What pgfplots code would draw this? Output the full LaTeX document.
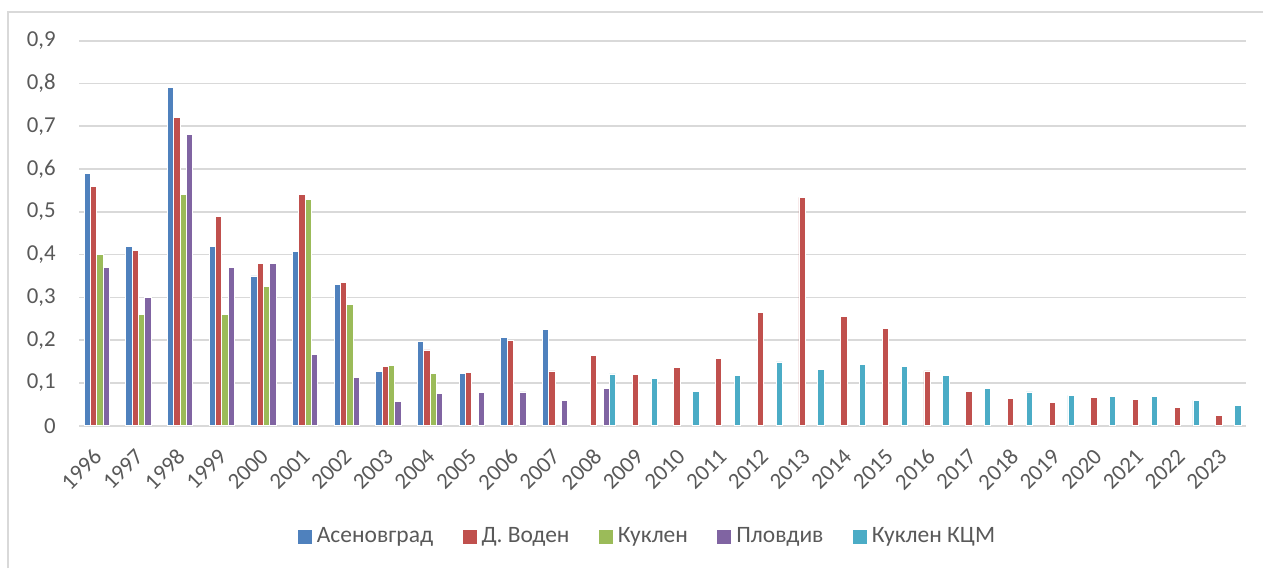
\documentclass[border=0pt]{standalone}
\usepackage{fontspec}
\setmainfont{Carlito}
\usepackage{pgfplots}
\pgfplotsset{compat=1.18}

\definecolor{cA}{HTML}{4F81BD}
\definecolor{cB}{HTML}{C0504D}
\definecolor{cC}{HTML}{9BBB59}
\definecolor{cD}{HTML}{8064A2}
\definecolor{cE}{HTML}{4BACC6}
\definecolor{txt}{HTML}{595959}
\definecolor{grd}{HTML}{D9D9D9}

\newcommand{\cfont}{\fontsize{11.4}{13.7}\selectfont}
\newcommand{\lfont}{\fontsize{11.75}{14}\selectfont}

\pgfplotsset{
  sqlegend/.style={legend image code/.code={\fill[##1, draw=none] (0pt,-3.5pt) rectangle (7pt,3.5pt);}},
}

\begin{document}
\begin{tikzpicture}[font=\cfont]
\begin{axis}[
  at={(39.5pt,71.15pt)}, anchor=south west,
  scale only axis, width=583.5pt, height=192.5pt,
  ybar=0pt, bar width=3.15pt,
  xmin=1995.5, xmax=2023.5, ymin=0, ymax=0.9,
  xtick={1996,...,2023},
  ytick={0,0.1,0.2,0.3,0.4,0.5,0.6,0.7,0.8,0.9},
  ymajorgrids, grid style={grd, line width=0.8pt},
  axis line style={draw=none},
  major tick length=0pt, tick style={draw=none},
  /pgf/number format/assume math mode=true,
  x tick label style={/pgf/number format/1000 sep={}},
  y tick label style={/pgf/number format/use comma, /pgf/number format/fixed, /pgf/number format/precision=1},
  tick label style={text=txt, font=\cfont},
  yticklabel style={anchor=east, inner sep=0pt, xshift=-11.5pt},
  xticklabel style={inner sep=0pt, xshift=-1pt, yshift=-13.5pt, rotate=45, anchor=east},
  every axis plot post/.append style={sqlegend},
  legend style={at={(0.4863,-0.288)}, anchor=center, draw=none, fill=none,
    legend columns=-1, text=txt, font=\lfont, nodes={inner sep=0pt},
    /tikz/every odd column/.append style={column sep=2.5pt},
    /tikz/every even column/.append style={column sep=14.7pt}},
]
\addplot[fill=cA, draw=white, line width=0.4pt] coordinates {
  (1996,0.59) (1997,0.42) (1998,0.79) (1999,0.42) (2000,0.35) (2001,0.407)
  (2002,0.330) (2003,0.127) (2004,0.198) (2005,0.122) (2006,0.206) (2007,0.225)};
\addplot[fill=cB, draw=white, line width=0.4pt] coordinates {
  (1996,0.56) (1997,0.41) (1998,0.72) (1999,0.49) (2000,0.38) (2001,0.541)
  (2002,0.334) (2003,0.139) (2004,0.177) (2005,0.124) (2006,0.199) (2007,0.128)
  (2008,0.164) (2009,0.119) (2010,0.137) (2011,0.157) (2012,0.265) (2013,0.534)
  (2014,0.256) (2015,0.228) (2016,0.128) (2017,0.081) (2018,0.064) (2019,0.055)
  (2020,0.065) (2021,0.062) (2022,0.043) (2023,0.023)};
\addplot[fill=cC, draw=white, line width=0.4pt] coordinates {
  (1996,0.40) (1997,0.26) (1998,0.54) (1999,0.26) (2000,0.325) (2001,0.528)
  (2002,0.284) (2003,0.141) (2004,0.122)};
\addplot[fill=cD, draw=white, line width=0.4pt] coordinates {
  (1996,0.37) (1997,0.30) (1998,0.68) (1999,0.37) (2000,0.38) (2001,0.166)
  (2002,0.113) (2003,0.056) (2004,0.075) (2005,0.078) (2006,0.079) (2007,0.059)
  (2008,0.087)};
\addplot[fill=cE, draw=white, line width=0.4pt] coordinates {
  (2008,0.121) (2009,0.111) (2010,0.080) (2011,0.117) (2012,0.149) (2013,0.132)
  (2014,0.143) (2015,0.139) (2016,0.118) (2017,0.087) (2018,0.079) (2019,0.071)
  (2020,0.069) (2021,0.069) (2022,0.059) (2023,0.048)};
\legend{Асеновград, Д. Воден, Куклен, Пловдив, Куклен КЦМ}
\end{axis}
\draw[grd, line width=0.75pt] (4pt,0pt) -- (4pt,278pt) -- (631.5pt,278pt);
\pgfresetboundingbox
\useasboundingbox (0pt,0pt) rectangle (631.5pt,284pt);
\end{tikzpicture}
\end{document}
